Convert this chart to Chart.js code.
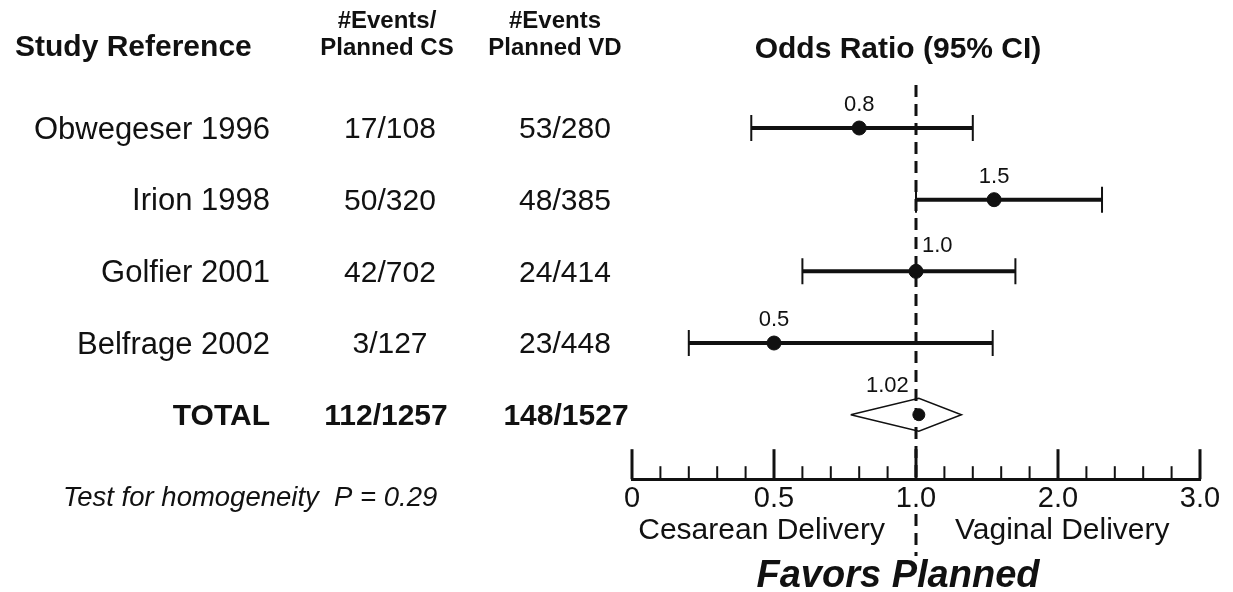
<!DOCTYPE html>
<html>
<head>
<meta charset="utf-8">
<script src="https://cdn.jsdelivr.net/npm/chart.js@4.4.0/dist/chart.umd.min.js"></script>
<style>
  html, body { margin: 0; padding: 0; background: #fff; }
</style>
</head>
<body>
<canvas id="forest" width="1233" height="592"></canvas>
<script>
// study data
const studies = ['Obwegeser 1996', 'Irion 1998', 'Golfier 2001', 'Belfrage 2002'];
const eventsCS = ['17/108', '50/320', '42/702', '3/127'];
const eventsVD = ['53/280', '48/385', '24/414', '23/448'];
const oddsRatio = [0.8, 1.55, 1.0, 0.5];
const orLabels = ['0.8', '1.5', '1.0', '0.5'];
const ciLow = [0.42, 1.0, 0.6, 0.2];
const ciHigh = [1.4, 2.31, 1.7, 1.54];

// pooled
const totalCS = '112/1257';
const totalVD = '148/1527';
const pooledOR = 1.02;
const pooledLabel = '1.02';
const pooledLow = 0.77;
const pooledHigh = 1.32;

// axis
const tickValues = [0, 0.5, 1, 2, 3];
const tickLabels = ['0', '0.5', '1.0', '2.0', '3.0'];

// axis is linear 0-1, then 1-3 squeezed into the same width
function u(v) { return v <= 1 ? v : 1 + (v - 1) / 2; }

const FONT = "'Liberation Sans', Arial, Helvetica, sans-serif";
const INK = '#111';
const totalRow = studies.length;

const ciSets = studies.map((s, i) => ({
  label: s,
  data: [{ x: u(ciLow[i]), y: i }, { x: u(ciHigh[i]), y: i }],
  showLine: true,
  borderColor: INK,
  borderWidth: 4,
  pointStyle: 'line',
  pointRotation: 90,
  pointRadius: 13,
  pointHoverRadius: 13,
  pointBorderWidth: 2,
  pointBorderColor: INK
}));

const diamond = {
  label: 'pooled',
  data: [
    { x: u(pooledLow), y: totalRow },
    { x: u(pooledOR), y: totalRow - 0.23 },
    { x: u(pooledHigh), y: totalRow },
    { x: u(pooledOR), y: totalRow + 0.23 },
    { x: u(pooledLow), y: totalRow }
  ],
  showLine: true,
  borderColor: INK,
  borderWidth: 1.5,
  pointRadius: 0,
  pointHoverRadius: 0,
  fill: false
};

const points = {
  label: 'OR',
  data: oddsRatio.map((v, i) => ({ x: u(v), y: i })),
  pointRadius: 7,
  pointHoverRadius: 7,
  backgroundColor: INK,
  borderColor: INK
};

const pooledPoint = {
  label: 'pooled OR',
  data: [{ x: u(pooledOR), y: totalRow }],
  pointRadius: 6,
  pointHoverRadius: 6,
  backgroundColor: INK,
  borderColor: INK
};

function txt(ctx, s, x, y, font, align) {
  ctx.font = font;
  ctx.textAlign = align || 'left';
  ctx.textBaseline = 'middle';
  ctx.fillText(s, x, y);
}

const forestPlugin = {
  id: 'forest',
  beforeDatasetsDraw(chart) {
    const { ctx, scales: { x } } = chart;
    const px = x.getPixelForValue(1);
    ctx.save();
    ctx.strokeStyle = INK;
    ctx.lineWidth = 3;
    ctx.setLineDash([12, 7]);
    ctx.beginPath();
    ctx.moveTo(px, chart.chartArea.top);
    ctx.lineTo(px, chart.chartArea.bottom);
    ctx.moveTo(px, 514);
    ctx.lineTo(px, 556);
    ctx.stroke();
    ctx.restore();
  },
  afterDraw(chart) {
    const { ctx, chartArea, scales: { x, y } } = chart;
    ctx.save();
    ctx.fillStyle = INK;
    ctx.strokeStyle = INK;

    // axis ticks pointing up
    const base = chartArea.bottom;
    for (let k = 0; k <= 20; k++) {
      const major = k % 5 === 0;
      const px = x.getPixelForValue(k / 10);
      ctx.lineWidth = major ? 3 : 2;
      ctx.beginPath();
      ctx.moveTo(px, base);
      ctx.lineTo(px, base - (major ? 30 : 13));
      ctx.stroke();
    }

    // headers
    txt(ctx, 'Study Reference', 15, 48, 'bold 30px ' + FONT);
    txt(ctx, '#Events/', 387, 21, 'bold 24px ' + FONT, 'center');
    txt(ctx, 'Planned CS', 387, 48, 'bold 24px ' + FONT, 'center');
    txt(ctx, '#Events', 555, 21, 'bold 24px ' + FONT, 'center');
    txt(ctx, 'Planned VD', 555, 48, 'bold 24px ' + FONT, 'center');
    txt(ctx, 'Odds Ratio (95% CI)', 898, 50, 'bold 30px ' + FONT, 'center');

    // study rows
    studies.forEach((s, i) => {
      const py = y.getPixelForValue(i) + 2;
      txt(ctx, s, 270, py, '31px ' + FONT, 'right');
      txt(ctx, eventsCS[i], 390, py, '30px ' + FONT, 'center');
      txt(ctx, eventsVD[i], 565, py, '30px ' + FONT, 'center');

      const ox = x.getPixelForValue(u(oddsRatio[i]));
      const oy = y.getPixelForValue(i);
      if (Math.abs(oddsRatio[i] - 1) < 0.01) {
        txt(ctx, orLabels[i], ox + 6, oy - 25, '22px ' + FONT, 'left');
      } else {
        txt(ctx, orLabels[i], ox, oy - 23, '22px ' + FONT, 'center');
      }
    });

    // total row
    const ty = y.getPixelForValue(totalRow) + 2;
    txt(ctx, 'TOTAL', 270, ty, 'bold 30px ' + FONT, 'right');
    txt(ctx, totalCS, 386, ty, 'bold 30px ' + FONT, 'center');
    txt(ctx, totalVD, 566, ty, 'bold 30px ' + FONT, 'center');
    txt(ctx, pooledLabel, x.getPixelForValue(u(pooledOR)) - 10, ty - 31, '22px ' + FONT, 'right');

    // footer texts
    txt(ctx, 'Test for homogeneity  P = 0.29', 63, 498, 'italic 27.5px ' + FONT);
    txt(ctx, 'Cesarean Delivery', 885, 531, '30px ' + FONT, 'right');
    txt(ctx, 'Vaginal Delivery', 955, 531, '30px ' + FONT, 'left');
    txt(ctx, 'Favors Planned', 898, 577, 'italic bold 38px ' + FONT, 'center');
    ctx.restore();
  }
};

new Chart(document.getElementById('forest'), {
  type: 'scatter',
  data: { datasets: [...ciSets, diamond, points, pooledPoint] },
  options: {
    responsive: false,
    animation: false,
    layout: { padding: { left: 632, right: 33, top: 85, bottom: 74 } },
    plugins: { legend: { display: false }, tooltip: { enabled: false } },
    scales: {
      x: {
        type: 'linear',
        min: 0,
        max: 2,
        afterBuildTicks: (scale) => { scale.ticks = tickValues.map(v => ({ value: u(v) })); },
        grid: { display: false, drawTicks: false },
        border: { display: true, width: 3, color: INK },
        ticks: {
          padding: 2,
          color: INK,
          font: { family: FONT, size: 29 },
          maxRotation: 0,
          autoSkip: false,
          callback: (val, idx) => tickLabels[idx]
        }
      },
      y: {
        type: 'linear',
        min: -0.6,
        max: 4.9,
        reverse: true,
        display: false
      }
    }
  },
  plugins: [forestPlugin]
});
</script>
</body>
</html>
